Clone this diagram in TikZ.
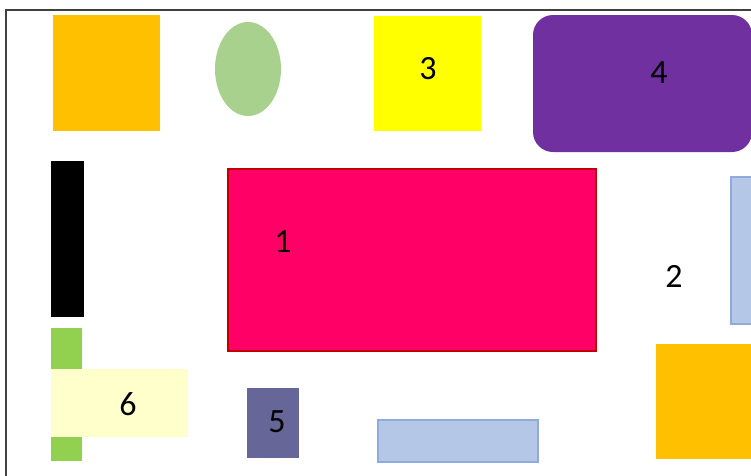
\documentclass[tikz,border=0pt]{standalone}
\usepackage{fontspec}
\setmainfont{Carlito}
\usetikzlibrary{shapes.geometric}
\definecolor{orng}{HTML}{FFC000}
\definecolor{grn}{HTML}{A9D18E}
\definecolor{yel}{HTML}{FFFF00}
\definecolor{purp}{HTML}{7030A0}
\definecolor{pinkf}{HTML}{FF0066}
\definecolor{dred}{HTML}{C00000}
\definecolor{lblue}{HTML}{B4C7E7}
\definecolor{lbluedge}{HTML}{8FAADC}
\definecolor{lgrn}{HTML}{92D050}
\definecolor{lyel}{HTML}{FFFFCC}
\definecolor{slate}{HTML}{666699}
\begin{document}
\begin{tikzpicture}[x=1pt,y=-1pt,
  shp/.style={inner sep=0pt, outer sep=0pt},
  num/.style={inner sep=0pt, font=\fontsize{34}{40}\selectfont, text=black}]
\useasboundingbox (0,0) rectangle (751,475);
\clip (0,0) rectangle (751,475);
\fill[white] (0,0) rectangle (751,475);
\draw[line width=1.3pt, draw=black!75] (6,480) |- (760,10);
% top row
\node[shp, fill=orng, minimum width=107pt, minimum height=116pt] (o1) at (106.5,73) {};
\node[shp, ellipse, fill=grn, minimum width=66pt, minimum height=94pt] (el) at (248,69) {};
\node[shp, fill=yel, minimum width=107pt, minimum height=115pt] (y3) at (427.5,73.5) {};
\node[num] (t3) at (428,69) {3};
\fill[purp, rounded corners=20pt] (533,15) rectangle (752,152);
\node[num] (t4) at (659,73) {4};
% middle
\node[shp, fill=black, minimum width=33pt, minimum height=156pt] (blk) at (67.5,239) {};
\node[shp, draw=dred, line width=2pt, fill=pinkf, minimum width=368pt, minimum height=182pt] (p1) at (412,260) {};
\node[num] (t1) at (283,242) {1};
\node[shp, draw=lbluedge, line width=2pt, fill=lblue, minimum width=40pt, minimum height=147pt] (b2) at (751,250.5) {};
\node[num] (t2) at (674,276) {2};
% bottom
\node[shp, fill=lgrn, minimum width=31pt, minimum height=133pt] (g) at (66.5,394.5) {};
\node[shp, fill=lyel, minimum width=137.5pt, minimum height=68pt] (y6) at (119.5,403) {};
\node[num] (t6) at (128,404) {6};
\node[shp, fill=slate, minimum width=52pt, minimum height=70pt] (s5) at (273,423) {};
\node[num] (t5) at (277,422) {5};
\node[shp, draw=lbluedge, line width=2pt, fill=lblue, minimum width=160pt, minimum height=42pt] (b7) at (458,441) {};
\node[shp, fill=orng, minimum width=100pt, minimum height=115pt] (o2) at (706,401.5) {};
\end{tikzpicture}
\end{document}
